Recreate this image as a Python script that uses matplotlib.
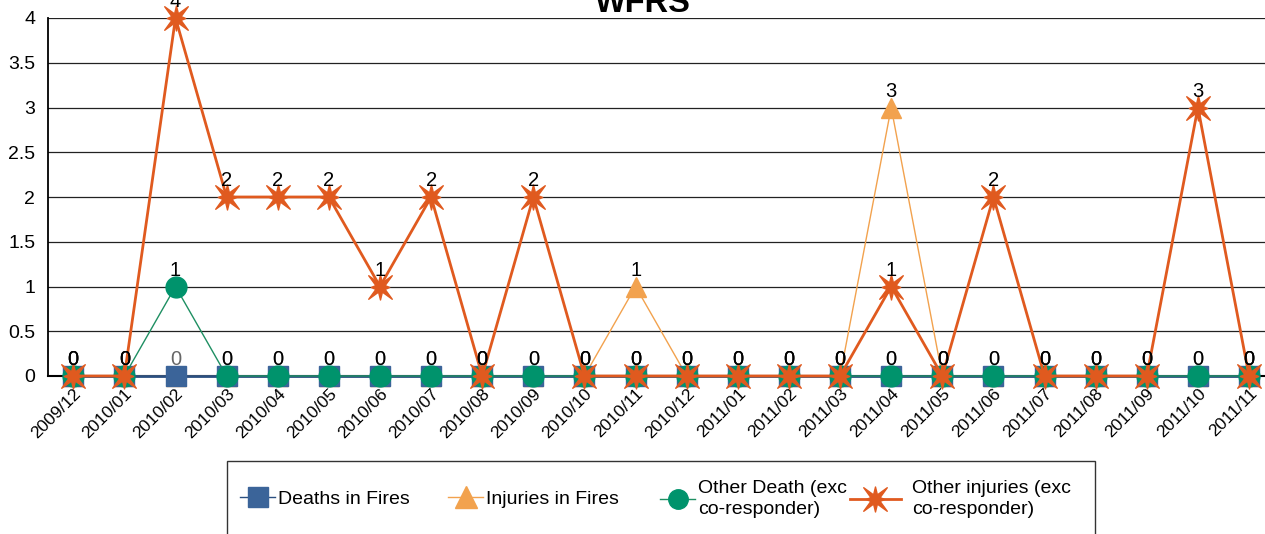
import numpy as np, matplotlib
matplotlib.use("Agg")
import matplotlib.pyplot as plt
from matplotlib.path import Path
from matplotlib.lines import Line2D
from matplotlib.patches import Rectangle

plt.rcParams['font.family'] = ['Liberation Sans', 'DejaVu Sans']

months = ["2009/12","2010/01","2010/02","2010/03","2010/04","2010/05","2010/06","2010/07",
          "2010/08","2010/09","2010/10","2010/11","2010/12","2011/01","2011/02","2011/03",
          "2011/04","2011/05","2011/06","2011/07","2011/08","2011/09","2011/10","2011/11"]
deaths_fires   = [0]*24
injuries_fires = [0,0,0,0,0,0,0,0,0,0,0,1,0,0,0,0,3,0,0,0,0,0,0,0]
other_death    = [0,0,1,0,0,0,0,0,0,0,0,0,0,0,0,0,0,0,0,0,0,0,0,0]
other_injuries = [0,0,4,2,2,2,1,2,0,2,0,0,0,0,0,0,1,0,2,0,0,0,3,0]
names = ["Deaths in Fires","Injuries in Fires","Other Death (exc\nco-responder)","Other injuries (exc\nco-responder)"]

# excel-ish star marker
ang, rad = [], []
for k in range(16):
    a = np.pi/2 + k*np.pi/8
    if k % 2: r = 0.3
    elif k % 4 == 2: r = 1.0   # diagonals
    elif k in (0, 8): r = 0.75  # top / bottom
    else: r = 0.55
    ang.append(a); rad.append(r)
verts = [(r*np.cos(a), r*np.sin(a)) for a, r in zip(ang, rad)] + [(0, 0)]
star = Path(verts, [Path.MOVETO] + [Path.LINETO]*15 + [Path.CLOSEPOLY])

c_blue, c_tri, c_green, c_star = "#3B6499", "#F2A24E", "#00936C", "#E05A1F"

fig = plt.figure(figsize=(12.65, 5.34), dpi=100)
ax = fig.add_axes([47.7/1265, 158/534, 1226.9/1265, 358/534])
x = np.arange(len(months))

ax.plot(x, injuries_fires, "-^", color=c_tri, mfc=c_tri, mec=c_tri, lw=1, ms=15, clip_on=False, zorder=3)
ax.plot(x, deaths_fires, "-s", color="#2A4F80", mfc=c_blue, mec=c_blue, lw=2, ms=14.4, clip_on=False, zorder=4)
ax.plot(x, other_death, "-o", color="#1E8F62", mfc=c_green, mec=c_green, lw=1, ms=15, clip_on=False, zorder=5)
ax.plot(x, other_injuries, "-", color=c_star, lw=2, marker=star, mfc=c_star, mec=c_star, ms=18, clip_on=False, zorder=6)

for xi, v in zip(x, deaths_fires):
    ax.annotate(f"{v}", (xi, v), xytext=(0, 5), textcoords="offset points", ha="center", va="bottom",
                fontsize=14.5, color="#666666", zorder=7, annotation_clip=False)
for ser in (injuries_fires, other_death, other_injuries):
    for xi, v in zip(x, ser):
        if ser is injuries_fires and v == 0: continue
        ax.annotate(f"{v}", (xi, v), xytext=(0, 5), textcoords="offset points", ha="center", va="bottom",
                    fontsize=14.5, color="black", zorder=8, annotation_clip=False)

ax.set_xlim(-0.5, 23.5); ax.set_ylim(0, 4)
ax.set_yticks([0, 0.5, 1, 1.5, 2, 2.5, 3, 3.5, 4])
ax.set_yticklabels(["0","0.5","1","1.5","2","2.5","3","3.5","4"])
ax.grid(axis="y", color="#222222", lw=0.9); ax.set_axisbelow(True)
ax.set_xticks(x)
ax.set_xticklabels(months, rotation=45, ha="right", rotation_mode="anchor", fontsize=12.5)
ax.tick_params(axis="x", length=0, pad=7)
ax.tick_params(axis="y", length=0, pad=9, labelsize=14)
for s in ["top", "right"]: ax.spines[s].set_visible(False)
ax.spines["left"].set_linewidth(1.3); ax.spines["bottom"].set_linewidth(1.5)
fig.text(643/1265, 1 - 3/534, "WFRS", fontsize=23.5, fontweight="bold", ha="center", va="center")

fig.patches.append(Rectangle((227/1265, -0.1), (1095-227)/1265, 0.1 + (534-461)/534,
                             transform=fig.transFigure, fill=False, ec="#333333", lw=1))
handles = [
    Line2D([], [], color="#2A4F80", lw=1, marker="s", mfc=c_blue, mec=c_blue, ms=14),
    Line2D([], [], color=c_tri, lw=1, marker="^", mfc=c_tri, mec=c_tri, ms=16),
    Line2D([], [], color="#1E8F62", lw=1, marker="o", mfc=c_green, mec=c_green, ms=14),
    Line2D([], [], color=c_star, lw=2, marker=star, mfc=c_star, mec=c_star, ms=18),
]
leg_x = [240, 448, 660, 850]
leg_hl = [1.8, 1.8, 1.8, 2.6]
leg_pad = [0.15, 0.15, 0.15, 0.6]
for h, n, lx, hl, tp in zip(handles, names, leg_x, leg_hl, leg_pad):
    lg = fig.legend([h], [n], loc="center left", bbox_to_anchor=(lx/1265, 1 - 499/534), frameon=False,
                    fontsize=14, handlelength=hl, handletextpad=tp, borderpad=0, borderaxespad=0)
    for t in lg.get_texts(): t.set_linespacing(1.25)

fig.savefig("out.png", dpi=100, facecolor="white")
